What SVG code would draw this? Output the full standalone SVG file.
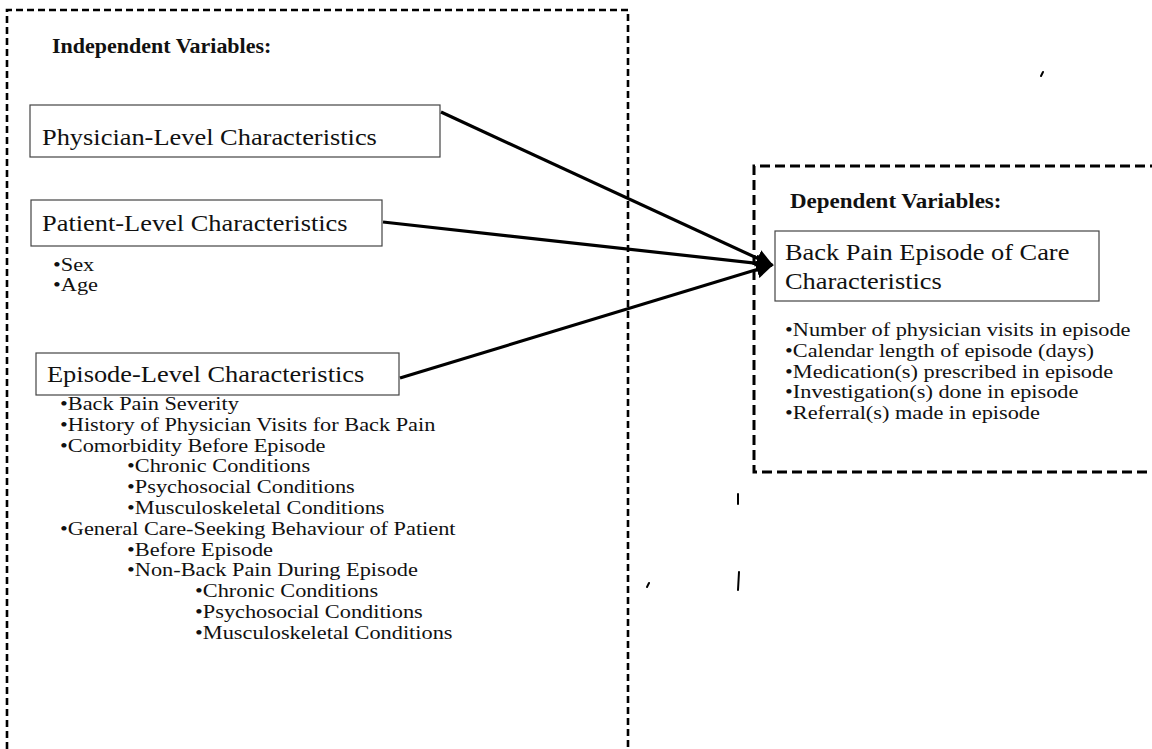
<svg xmlns="http://www.w3.org/2000/svg" width="1152" height="749" viewBox="0 0 1152 749">
<defs>
<style>
.t{font-family:"Liberation Serif","Times New Roman",serif;fill:#111}
.bx{font-size:24px}
.bl{font-size:18.6px}
.hd{font-size:20px;font-weight:bold}
.box{fill:#fff;stroke:#444;stroke-width:1.2}
.dash{fill:none;stroke:#000;stroke-width:2.6;stroke-dasharray:7 4}
.dash2{fill:none;stroke:#000;stroke-width:3;stroke-dasharray:10 5}
.con{stroke:#000;stroke-width:3.2;fill:none}
.mk{stroke:#000;stroke-width:2;stroke-linecap:round;fill:none}
</style>
<marker id="ah" viewBox="0 0 10 10" refX="9" refY="5" markerWidth="5.5" markerHeight="5.5" markerUnits="strokeWidth" orient="auto">
<path d="M0,0 L10,5 L0,10 z" fill="#000"/>
</marker>
</defs>
<rect width="1152" height="749" fill="#fff"/>

<g id="independent-variables">
<path class="dash" d="M7,760 L7,10 L628,10 L628,760"/>
<text class="t hd" transform="translate(52,53) scale(1.1,1)">Independent Variables:</text>
</g>

<g id="physician-level">
<rect class="box" x="30" y="105" width="410" height="52"/>
<text class="t bx" transform="translate(42,145) scale(1.1,1)">Physician-Level Characteristics</text>
</g>

<g id="patient-level">
<rect class="box" x="31" y="200" width="351" height="46"/>
<text class="t bx" transform="translate(42,231) scale(1.1,1)">Patient-Level Characteristics</text>
<text class="t bl" transform="translate(53,271) scale(1.2,1)">•Sex</text>
<text class="t bl" transform="translate(53,291) scale(1.2,1)">•Age</text>
</g>

<g id="episode-level">
<rect class="box" x="36" y="353" width="363" height="42"/>
<text class="t bx" transform="translate(47,382) scale(1.1,1)">Episode-Level Characteristics</text>
<text class="t bl" transform="translate(60,410) scale(1.2,1)">•Back Pain Severity</text>
<text class="t bl" transform="translate(60,431) scale(1.2,1)">•History of Physician Visits for Back Pain</text>
<text class="t bl" transform="translate(60,452) scale(1.2,1)">•Comorbidity Before Episode</text>
<text class="t bl" transform="translate(127,472) scale(1.2,1)">•Chronic Conditions</text>
<text class="t bl" transform="translate(127,493) scale(1.2,1)">•Psychosocial  Conditions</text>
<text class="t bl" transform="translate(127,514) scale(1.2,1)">•Musculoskeletal Conditions</text>
<text class="t bl" transform="translate(60,535) scale(1.2,1)">•General Care-Seeking Behaviour of Patient</text>
<text class="t bl" transform="translate(127,556) scale(1.2,1)">•Before Episode</text>
<text class="t bl" transform="translate(127,576) scale(1.2,1)">•Non-Back Pain During Episode</text>
<text class="t bl" transform="translate(195,597) scale(1.2,1)">•Chronic Conditions</text>
<text class="t bl" transform="translate(195,618) scale(1.2,1)">•Psychosocial Conditions</text>
<text class="t bl" transform="translate(195,639) scale(1.2,1)">•Musculoskeletal Conditions</text>
</g>

<g id="dependent-variables">
<path class="dash2" d="M1160,166 L754,166 L754,472 L1160,472"/>
<text class="t hd" transform="translate(790,208) scale(1.15,1)">Dependent Variables:</text>
</g>

<g id="back-pain-episode">
<rect class="box" x="775" y="231" width="324" height="70"/>
<text class="t bx" transform="translate(785,260) scale(1.1,1)">Back Pain Episode of Care</text>
<text class="t bx" transform="translate(785,289) scale(1.1,1)">Characteristics</text>
<text class="t bl" transform="translate(785,336) scale(1.2,1)">•Number of physician visits in episode</text>
<text class="t bl" transform="translate(785,357) scale(1.2,1)">•Calendar length of episode (days)</text>
<text class="t bl" transform="translate(785,378) scale(1.2,1)">•Medication(s) prescribed in episode</text>
<text class="t bl" transform="translate(785,398) scale(1.2,1)">•Investigation(s) done in episode</text>
<text class="t bl" transform="translate(785,419) scale(1.2,1)">•Referral(s) made in episode</text>
</g>

<g id="connectors">
<line class="con" x1="441" y1="112" x2="772" y2="265" marker-end="url(#ah)"/>
<line class="con" x1="383" y1="222" x2="772" y2="265" marker-end="url(#ah)"/>
<line class="con" x1="400" y1="378" x2="772" y2="265" marker-end="url(#ah)"/>
</g>

<g id="artifacts">
<path class="mk" d="M1043,72 L1041,76"/>
<path class="mk" d="M738,494 L738,504"/>
<path class="mk" d="M739,572 L738,590"/>
<path class="mk" d="M649,583 L647,587"/>
</g>
</svg>
